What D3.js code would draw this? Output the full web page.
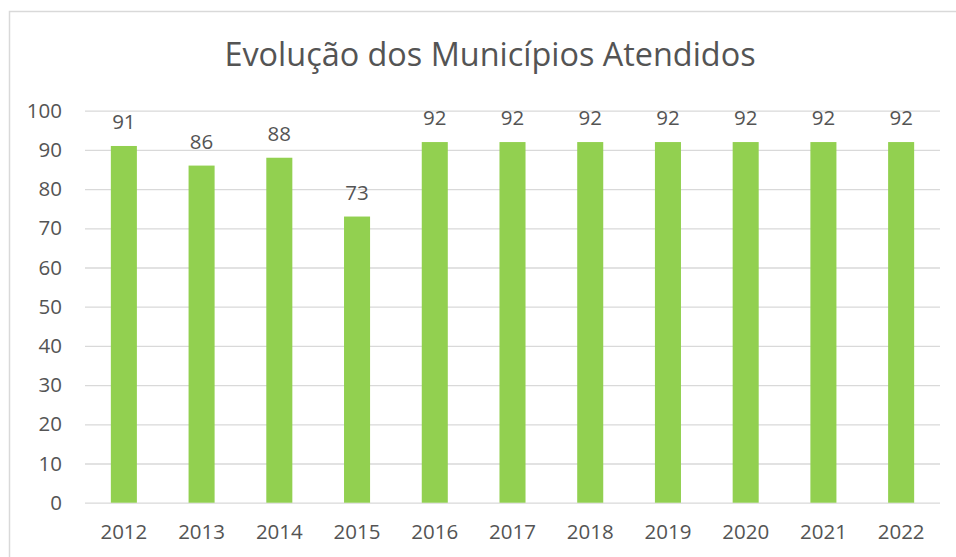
<!DOCTYPE html>
<html>
<head>
<meta charset="utf-8">
<script src="https://cdn.jsdelivr.net/npm/d3@7"></script>
<style>
  html, body { margin: 0; padding: 0; background: #fff; }
  svg { display: block; font-family: "Open Sans", sans-serif; }
</style>
</head>
<body>
<svg id="chart" width="956" height="557"></svg>
<script>
// Chart data
const title = "Evolução dos Municípios Atendidos";
const years = ["2012", "2013", "2014", "2015", "2016", "2017", "2018", "2019", "2020", "2021", "2022"];
const municipios = [91, 86, 88, 73, 92, 92, 92, 92, 92, 92, 92];
const yTicks = [0, 10, 20, 30, 40, 50, 60, 70, 80, 90, 100];

const width = 956, height = 557;
const margin = { left: 85, right: 16, top: 110.7, bottom: 54.3 };
const textColor = "#545454";
const gridColor = "#d9d9d9";
const barColor = "#92d050";

const svg = d3.select("#chart");

// chart frame
svg.append("rect")
    .attr("x", 9.5).attr("y", 11.5)
    .attr("width", 990).attr("height", 600)
    .attr("fill", "none")
    .attr("stroke", gridColor)
    .attr("stroke-width", 1.5);

const x = d3.scaleBand()
    .domain(years)
    .range([margin.left, width - margin.right])
    .paddingInner(0.665)
    .paddingOuter(0.3325);

const y = d3.scaleLinear()
    .domain([0, 100])
    .range([height - margin.bottom, margin.top]);

// gridlines + y labels
const yAxis = svg.append("g")
    .attr("transform", `translate(${margin.left},0)`)
    .call(d3.axisLeft(y).tickValues(yTicks).tickSize(-(width - margin.left - margin.right)).tickPadding(23));

yAxis.select(".domain").remove();
yAxis.selectAll(".tick line").attr("stroke", gridColor).attr("stroke-width", 1.3);
yAxis.selectAll(".tick text")
    .attr("fill", textColor)
    .style("font-size", "20.5px")
    .style("font-family", "'Open Sans', sans-serif");

// x labels
const xAxis = svg.append("g")
    .attr("transform", `translate(0,${height - margin.bottom})`)
    .call(d3.axisBottom(x).tickSize(0).tickPadding(22));
xAxis.select(".domain").remove();
xAxis.selectAll(".tick text")
    .attr("fill", textColor)
    .style("font-size", "20.5px")
    .style("font-family", "'Open Sans', sans-serif");

// bars
svg.append("g")
    .selectAll("rect")
    .data(municipios)
    .join("rect")
    .attr("x", (d, i) => x(years[i]))
    .attr("y", d => y(d))
    .attr("width", x.bandwidth())
    .attr("height", d => y(0) - y(d))
    .attr("fill", barColor);

// value labels
svg.append("g")
    .selectAll("text")
    .data(municipios)
    .join("text")
    .attr("x", (d, i) => x(years[i]) + x.bandwidth() / 2)
    .attr("y", d => y(d) - 17)
    .attr("text-anchor", "middle")
    .attr("fill", textColor)
    .style("font-size", "20.5px")
    .text(d => d);

// title
svg.append("text")
    .attr("x", 490)
    .attr("y", 66)
    .attr("text-anchor", "middle")
    .attr("fill", textColor)
    .style("font-size", "32.4px")
    .text(title);
</script>
</body>
</html>
